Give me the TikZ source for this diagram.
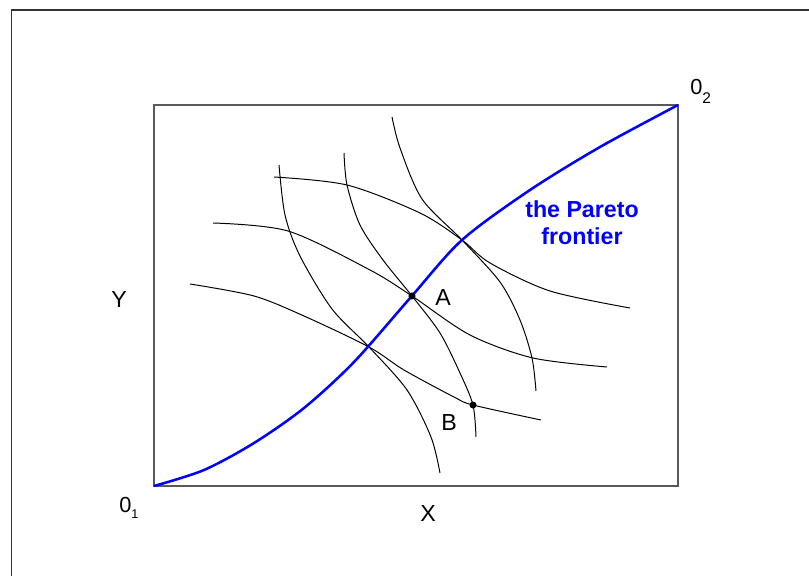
\documentclass[tikz,border=0pt]{standalone}
\usepackage{fontspec}
\setmainfont{Liberation Sans}
\usepackage{tikz}
\usetikzlibrary{positioning}

\begin{document}
\begin{tikzpicture}[
x=0.025cm, y=-0.025cm,
lbl/.style={inner sep=0pt, font=\fontsize{16.5}{19}\selectfont},
frontier/.style={blue, line width=1.8pt, line join=round},
indiff/.style={black, line width=0.7pt},
boxline/.style={draw=black!65, line width=0.8pt},
dot/.style={circle, fill=black, inner sep=0pt, minimum size=5pt}
]
\useasboundingbox (0,0) rectangle (809,576);
% outer frame, only the top and left edges show
\draw[black!80, line width=1pt] (11.5,576) -- (11.5,10) -- (809,10);
% the box
\coordinate (o1) at (154,486);
\coordinate (o2) at (678,105);
\draw[boxline] (o1) rectangle (o2);
% indifference curves, first person
\draw[indiff] plot[smooth] coordinates {(190,284) (254,296) (304,316) (369,347) (404,370) (454,397) (473,405) (541,420)};
\draw[indiff] plot[smooth] coordinates {(213,223) (288,231) (370,270) (412,296) (470,335) (533,358) (607,367)};
\draw[indiff] plot[smooth] coordinates {(274,177) (347,185) (420,213) (462,240) (490,263) (550,291) (630,308)};
% indifference curves, second person
\draw[indiff] plot[smooth] coordinates {(279,165) (285,215) (300,256) (332,309) (369,347) (407,390) (431,437) (440,473)};
\draw[indiff] plot[smooth] coordinates {(344,153) (347,185) (360,225) (383,260) (412,296) (440,333) (460,373) (473,405) (476,437)};
\draw[indiff] plot[smooth] coordinates {(392,117) (400,148) (422,199) (462,240) (500,282) (520,320) (532,358) (536,391)};
% contract curve
\draw[frontier] plot[smooth] coordinates {(o1) (204,470) (254,443) (304,408) (354,362) (411,297) (462,240) (530,190) (600,147) (o2)};
\node[dot] (ptA) at (412,296) {};
\node[dot] (ptB) at (473,405) {};
\node[lbl] (labA) at (443,298) {A};
\node[lbl] (labB) at (449,423) {B};
\node[lbl] (labY) at (119,300) {Y};
\node[lbl] (labX) at (428,514) {X};
\node[lbl, anchor=base west, font=\fontsize{15.5}{18}\selectfont] (lab1) at (119,512) {0\raisebox{-4.3pt}{\fontsize{9}{10}\selectfont 1}};
\node[lbl, anchor=base west, font=\fontsize{15.5}{18}\selectfont] (lab2) at (690,95) {0\raisebox{-5.7pt}{\fontsize{11}{12}\selectfont 2}};
\node[lbl, blue, align=center, font=\fontsize{16.5}{19.2}\selectfont\bfseries, anchor=base] (pareto) at (582,245) {the Pareto\\frontier};
\end{tikzpicture}
\end{document}
